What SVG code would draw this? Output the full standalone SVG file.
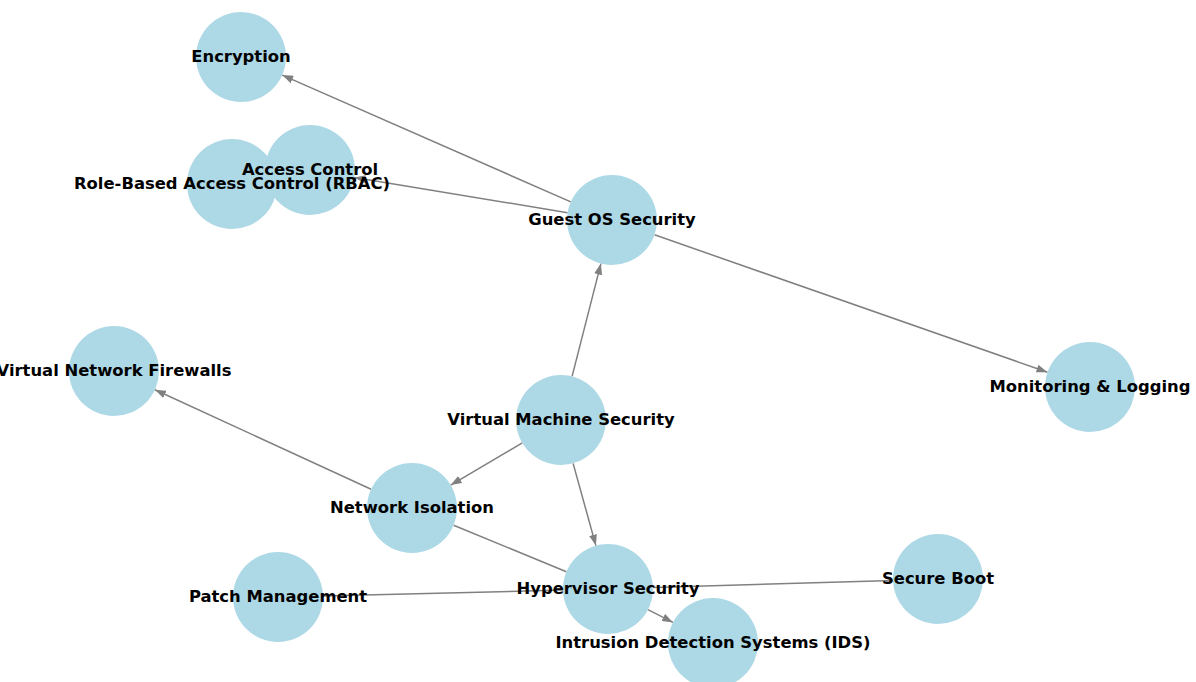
<svg xmlns="http://www.w3.org/2000/svg" width="1196" height="682" viewBox="0 0 1196 682">
<style>
.node{fill:#ADD8E6;}
.lbl{font-family:"DejaVu Sans",sans-serif;font-weight:bold;font-size:16.4px;fill:#000;text-anchor:middle;dominant-baseline:central;}
.edge{stroke:#808080;stroke-width:1.5;fill:none;}
.arr{marker-end:url(#ah);}
</style>
<defs>
<marker id="ah" viewBox="0 0 11 8" refX="11" refY="4" markerWidth="11" markerHeight="8" markerUnits="userSpaceOnUse" orient="auto">
<path d="M0,0 L11,4 L0,8 z" fill="#808080"/>
</marker>
</defs>
<rect width="1196" height="682" fill="#fff"/>
<g id="edges">
<line class="edge arr" x1="570.8" y1="201.9" x2="282.2" y2="75.1"/>
<line class="edge arr" x1="567.6" y1="212.7" x2="354.4" y2="177.4"/>
<line class="edge arr" x1="654.5" y1="234.8" x2="1047.5" y2="372.2"/>
<line class="edge arr" x1="572.1" y1="376.4" x2="600.9" y2="263.6"/>
<line class="edge arr" x1="522.3" y1="442.9" x2="450.7" y2="485.1"/>
<line class="edge arr" x1="573.1" y1="463.4" x2="595.9" y2="545.6"/>
<line class="edge arr" x1="371.1" y1="489.2" x2="154.9" y2="389.8"/>
<line class="edge" x1="453.6" y1="525.2" x2="566.4" y2="571.8"/>
<line class="edge arr" x1="648" y1="609.6" x2="673" y2="622.4"/>
<line class="edge" x1="563" y1="590.1" x2="323" y2="595.9"/>
<line class="edge" x1="653" y1="587.6" x2="893" y2="580.4"/>
</g>
<g id="n-encryption"><circle class="node" cx="241" cy="57" r="45"/></g>
<g id="n-access"><circle class="node" cx="310" cy="170" r="45"/></g>
<g id="n-rbac"><circle class="node" cx="232" cy="184" r="45"/></g>
<g id="n-guest"><circle class="node" cx="612" cy="220" r="45"/></g>
<g id="n-vnf"><circle class="node" cx="114" cy="371" r="45"/></g>
<g id="n-vm"><circle class="node" cx="561" cy="420" r="45"/></g>
<g id="n-monitor"><circle class="node" cx="1090" cy="387" r="45"/></g>
<g id="n-netiso"><circle class="node" cx="412" cy="508" r="45"/></g>
<g id="n-patch"><circle class="node" cx="278" cy="597" r="45"/></g>
<g id="n-hyper"><circle class="node" cx="608" cy="589" r="45"/></g>
<g id="n-secboot"><circle class="node" cx="938" cy="579" r="45"/></g>
<g id="n-ids"><circle class="node" cx="713" cy="643" r="45"/></g>
<g id="labels">
<text class="lbl" x="241" y="56">Encryption</text>
<text class="lbl" x="310" y="169">Access Control</text>
<text class="lbl" x="232" y="183">Role-Based Access Control (RBAC)</text>
<text class="lbl" x="612" y="219">Guest OS Security</text>
<text class="lbl" x="114" y="370">Virtual Network Firewalls</text>
<text class="lbl" x="561" y="419">Virtual Machine Security</text>
<text class="lbl" x="1090" y="386">Monitoring &amp; Logging</text>
<text class="lbl" x="412" y="507">Network Isolation</text>
<text class="lbl" x="278" y="596">Patch Management</text>
<text class="lbl" x="608" y="588">Hypervisor Security</text>
<text class="lbl" x="938" y="578">Secure Boot</text>
<text class="lbl" x="713" y="642">Intrusion Detection Systems (IDS)</text>
</g>
</svg>
